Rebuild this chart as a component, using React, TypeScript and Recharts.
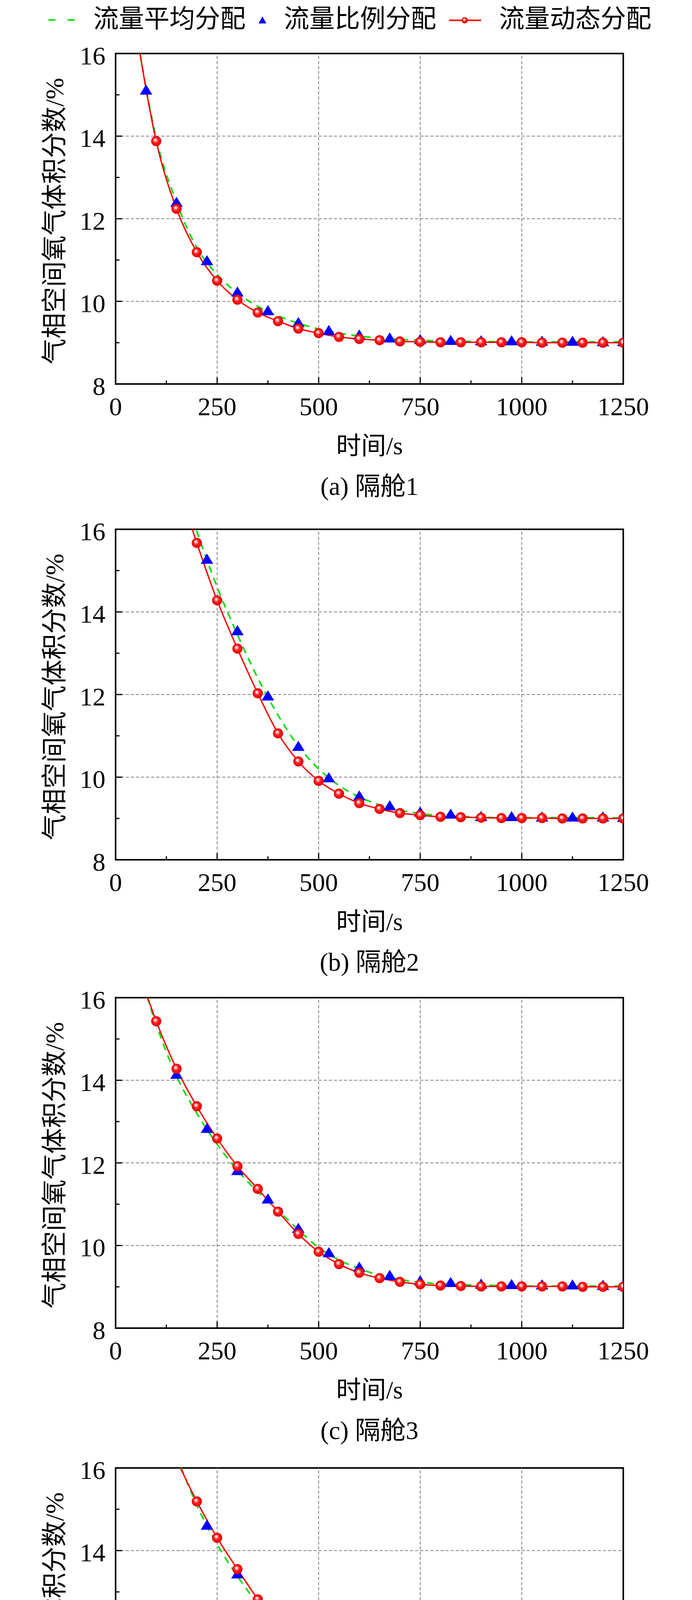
import React from "react";
import {
  ComposedChart,
  Line,
  Scatter,
  XAxis,
  YAxis,
  ReferenceLine,
  ReferenceArea,
} from "recharts";

const FONT = "'Liberation Serif', 'Noto Sans CJK SC', serif";

// time stamps (s)
const T_FROM_50 = [50, 100, 150, 200, 250, 300, 350, 400, 450, 500, 550, 600, 650, 700, 750, 800, 850, 900, 950, 1000, 1050, 1100, 1150, 1200, 1250];
const T_FROM_150 = [150, 200, 250, 300, 350, 400, 450, 500, 550, 600, 650, 700, 750, 800, 850, 900, 950, 1000, 1050, 1100, 1150, 1200, 1250];
const TRI_FROM_75 = [75, 150, 225, 300, 375, 450, 525, 600, 675, 750, 825, 900, 975, 1050, 1125, 1200, 1250];
const TRI_FROM_150 = [150, 225, 300, 375, 450, 525, 600, 675, 750, 825, 900, 975, 1050, 1125, 1200, 1250];
const TRI_FROM_225 = [225, 300, 375, 450, 525, 600, 675, 750, 825, 900, 975, 1050, 1125, 1200, 1250];

// 隔舱1
const avg1 = [16.6, 13.95, 12.4, 11.3, 10.65, 10.2, 9.88, 9.65, 9.47, 9.33, 9.23, 9.16, 9.11, 9.08, 9.06, 9.04, 9.03, 9.03, 9.02, 9.02, 9.02, 9.02, 9.02, 9.02, 9.02];
const prop1 = [15.1, 12.38, 10.97, 10.21, 9.76, 9.47, 9.28, 9.17, 9.1, 9.06, 9.04, 9.03, 9.03, 9.02, 9.02, 9.01, 9.01];
const dyn1 = [16.6, 13.88, 12.24, 11.19, 10.5, 10.04, 9.73, 9.52, 9.34, 9.23, 9.14, 9.09, 9.06, 9.03, 9.02, 9.01, 9.01, 9.01, 9.01, 9.01, 9.0, 9.0, 9.0, 9.0, 9.0];

// 隔舱2
const avg2 = [17.4, 15.95, 14.6, 13.45, 12.4, 11.5, 10.75, 10.2, 9.8, 9.52, 9.33, 9.2, 9.12, 9.07, 9.05, 9.03, 9.02, 9.02, 9.02, 9.02, 9.02, 9.02, 9.01];
const prop2 = [15.26, 13.53, 11.95, 10.73, 9.97, 9.53, 9.29, 9.14, 9.09, 9.03, 9.03, 9.02, 9.02, 9.02, 9.01];
const dyn2 = [17.2, 15.67, 14.28, 13.11, 12.03, 11.06, 10.38, 9.91, 9.6, 9.37, 9.23, 9.13, 9.08, 9.04, 9.03, 9.02, 9.01, 9.01, 9.01, 9.0, 9.0, 9.0, 9.0];

// 隔舱3
const avg3 = [16.9, 15.35, 14.1, 13.2, 12.45, 11.82, 11.3, 10.85, 10.38, 9.95, 9.65, 9.44, 9.28, 9.18, 9.11, 9.07, 9.05, 9.04, 9.03, 9.02, 9.02, 9.02, 9.02, 9.02, 9.02];
const prop3 = [14.13, 12.82, 11.8, 11.11, 10.4, 9.81, 9.46, 9.26, 9.13, 9.09, 9.05, 9.04, 9.03, 9.03, 9.02, 9.02];
const dyn3 = [16.85, 15.43, 14.28, 13.37, 12.59, 11.92, 11.37, 10.82, 10.28, 9.85, 9.55, 9.34, 9.21, 9.12, 9.06, 9.03, 9.02, 9.01, 9.01, 9.01, 9.01, 9.01, 9.0, 9.0, 9.0];

// 隔舱4
const avg4 = [16.3, 15.1, 14.15, 13.38, 12.7, 12.05, 11.47, 10.95, 10.5, 10.13, 9.83, 9.6, 9.43, 9.3, 9.2, 9.14, 9.1, 9.07, 9.05, 9.04, 9.03, 9.03, 9.02];
const prop4 = [14.6, 13.42, 12.38, 11.49, 10.75, 10.19, 9.76, 9.47, 9.29, 9.18, 9.12, 9.08, 9.05, 9.04, 9.03];
const dyn4 = [16.2, 15.19, 14.31, 13.55, 12.82, 12.1, 11.47, 10.92, 10.45, 10.08, 9.78, 9.56, 9.39, 9.27, 9.18, 9.12, 9.09, 9.06, 9.04, 9.03, 9.03, 9.02, 9.02];

const X_TICKS = [0, 125, 250, 375, 500, 625, 750, 875, 1000, 1125, 1250];
const Y_TICKS = [8, 9, 10, 11, 12, 13, 14, 15, 16];
const X_GRID = [250, 500, 750, 1000];
const Y_GRID = [10, 12, 14];

const LEGEND = ["流量平均分配", "流量比例分配", "流量动态分配"];
const CAPTIONS = ["(a) 隔舱1", "(b) 隔舱2", "(c) 隔舱3", "(d) 隔舱4"];

// layout
const PLOT_LEFT = 296;
const PLOT_RIGHT = 1596;
const PLOT_H = 846;
const PANEL_TOPS = [137, 1355, 2554, 3758];
const M_TOP = 40;
const X_AXIS_H = 100;
const Y_AXIS_W = 200;

const zip = (ts: number[], vs: number[]) => ts.map((t, i) => ({ t, v: vs[i] }));

const panels = [
  { avg: zip(T_FROM_50, avg1), prop: zip(TRI_FROM_75, prop1), dyn: zip(T_FROM_50, dyn1) },
  { avg: zip(T_FROM_150, avg2), prop: zip(TRI_FROM_225, prop2), dyn: zip(T_FROM_150, dyn2) },
  { avg: zip(T_FROM_50, avg3), prop: zip(TRI_FROM_150, prop3), dyn: zip(T_FROM_50, dyn3) },
  { avg: zip(T_FROM_150, avg4), prop: zip(TRI_FROM_225, prop4), dyn: zip(T_FROM_150, dyn4) },
];

const XTick = (props: any) => {
  const { x, y, payload } = props;
  const major = payload.value % 250 === 0;
  return (
    <g>
      <line x1={x} x2={x} y1={y} y2={y - (major ? 17 : 9)} stroke="#000" strokeWidth={3} />
      {major && (
        <text x={x} y={y + 57} textAnchor="middle" dominantBaseline="central" fontSize={66} fontFamily={FONT} fill="#000">
          {payload.value}
        </text>
      )}
    </g>
  );
};

const YTick = (props: any) => {
  const { x, y, payload } = props;
  const major = payload.value % 2 === 0;
  return (
    <g>
      <line x1={x} x2={x + (major ? 17 : 10)} y1={y} y2={y} stroke="#000" strokeWidth={3} />
      {major && (
        <text x={x - 26} y={y + 5} textAnchor="end" dominantBaseline="central" fontSize={66} fontFamily={FONT} fill="#000">
          {payload.value}
        </text>
      )}
    </g>
  );
};

const Triangle = (props: any) => {
  const { cx, cy } = props;
  if (cx == null || cy == null) return null;
  return <polygon points={`${cx},${cy - 16} ${cx - 16},${cy + 10} ${cx + 16},${cy + 10}`} fill="#0000ff" />;
};

const Panel = ({ idx }: { idx: number }) => {
  const p = panels[idx];
  const gid = `ball${idx}`;
  const Ball = (props: any) => {
    const { cx, cy, index } = props;
    if (cx == null || cy == null) return <g key={`b${index}`} />;
    return <circle key={`b${index}`} cx={cx} cy={cy} r={13} fill={`url(#${gid})`} />;
  };
  return (
    <div style={{ position: "absolute", left: 0, top: PANEL_TOPS[idx] - M_TOP }}>
      <ComposedChart
        width={1772}
        height={M_TOP + PLOT_H + X_AXIS_H + 10}
        margin={{ top: M_TOP, right: 1772 - PLOT_RIGHT, bottom: 10, left: PLOT_LEFT - Y_AXIS_W }}
      >
        <defs>
          <radialGradient id={gid} cx="50%" cy="50%" r="50%" fx="38%" fy="35%">
            <stop offset="0%" stopColor="#ffffff" />
            <stop offset="22%" stopColor="#ffb4b4" />
            <stop offset="50%" stopColor="#ff2020" />
            <stop offset="100%" stopColor="#e00000" />
          </radialGradient>
        </defs>
        <XAxis
          type="number"
          dataKey="t"
          domain={[0, 1250]}
          ticks={X_TICKS}
          interval={0}
          height={X_AXIS_H}
          tickSize={0}
          tickMargin={0}
          tickLine={false}
          tick={XTick}
          axisLine={{ stroke: "#000", strokeWidth: 4 }}
          allowDataOverflow
        />
        <YAxis
          type="number"
          domain={[8, 16]}
          ticks={Y_TICKS}
          interval={0}
          width={Y_AXIS_W}
          tickSize={0}
          tickMargin={0}
          tickLine={false}
          tick={YTick}
          axisLine={{ stroke: "#000", strokeWidth: 4 }}
          allowDataOverflow
        />
        {X_GRID.map((g) => (
          <ReferenceLine key={`gx${g}`} x={g} stroke="#808080" strokeWidth={2} strokeDasharray="8 5" />
        ))}
        {Y_GRID.map((g) => (
          <ReferenceLine key={`gy${g}`} y={g} stroke="#808080" strokeWidth={2} strokeDasharray="8 5" />
        ))}
        <Line
          data={p.avg}
          dataKey="v"
          type="monotone"
          stroke="#00dd00"
          strokeWidth={4}
          strokeDasharray="18 14"
          dot={false}
          isAnimationActive={false}
        />
        <Scatter data={p.prop} dataKey="v" shape={Triangle} isAnimationActive={false} />
        <Line
          data={p.dyn}
          dataKey="v"
          type="monotone"
          stroke="#ff0000"
          strokeWidth={3.5}
          dot={Ball}
          isAnimationActive={false}
        />
        <ReferenceArea x1={0} x2={1250} y1={8} y2={16} fill="none" stroke="#000" strokeWidth={4} />
      </ComposedChart>
    </div>
  );
};

const Overlay = () => (
  <svg
    width={1772}
    height={4913}
    style={{ position: "absolute", left: 0, top: 0, pointerEvents: "none" }}
  >
    <defs>
      <radialGradient id="legBall" cx="50%" cy="50%" r="50%" fx="38%" fy="35%">
        <stop offset="0%" stopColor="#ffffff" />
        <stop offset="25%" stopColor="#ffb4b4" />
        <stop offset="55%" stopColor="#ff2020" />
        <stop offset="100%" stopColor="#e00000" />
      </radialGradient>
    </defs>
    {/* legend */}
    <line x1={124} x2={191} y1={51} y2={51} stroke="#00dd00" strokeWidth={4} strokeDasharray="18 31" />
    <text x={239} y={48} fontSize={65} fontFamily={FONT} dominantBaseline="central" fill="#000">{LEGEND[0]}</text>
    <polygon points="672,42 662,60 682,60" fill="#0000ff" />
    <text x={727} y={48} fontSize={65} fontFamily={FONT} dominantBaseline="central" fill="#000">{LEGEND[1]}</text>
    <line x1={1150} x2={1232} y1={52} y2={52} stroke="#ff0000" strokeWidth={4} />
    <circle cx={1190} cy={52} r={8} fill="url(#legBall)" />
    <text x={1278} y={48} fontSize={65} fontFamily={FONT} dominantBaseline="central" fill="#000">{LEGEND[2]}</text>

    {PANEL_TOPS.map((top, i) => {
      const bottom = top + PLOT_H;
      const cx = (PLOT_LEFT + PLOT_RIGHT) / 2;
      return (
        <g key={`ov${i}`}>
          <text
            x={139}
            y={top + PLOT_H / 2 + 6}
            transform={`rotate(-90 139 ${top + PLOT_H / 2 + 6})`}
            textAnchor="middle"
            dominantBaseline="central"
            fontSize={66}
            fontFamily={FONT}
            fill="#000"
          >
            气相空间氧气体积分数/%
          </text>
          <text x={cx} y={bottom + 158} textAnchor="middle" dominantBaseline="central" fontSize={64} fontFamily={FONT} fill="#000">
            时间/s
          </text>
          <text x={cx} y={bottom + 262} textAnchor="middle" dominantBaseline="central" fontSize={65} fontFamily={FONT} fill="#000">
            {CAPTIONS[i]}
          </text>
        </g>
      );
    })}
  </svg>
);

export default function App() {
  return (
    <div style={{ position: "relative", width: 1772, height: 4913, margin: -8, background: "#fff" }}>
      {PANEL_TOPS.map((_, i) => (
        <Panel key={`p${i}`} idx={i} />
      ))}
      <Overlay />
    </div>
  );
}
